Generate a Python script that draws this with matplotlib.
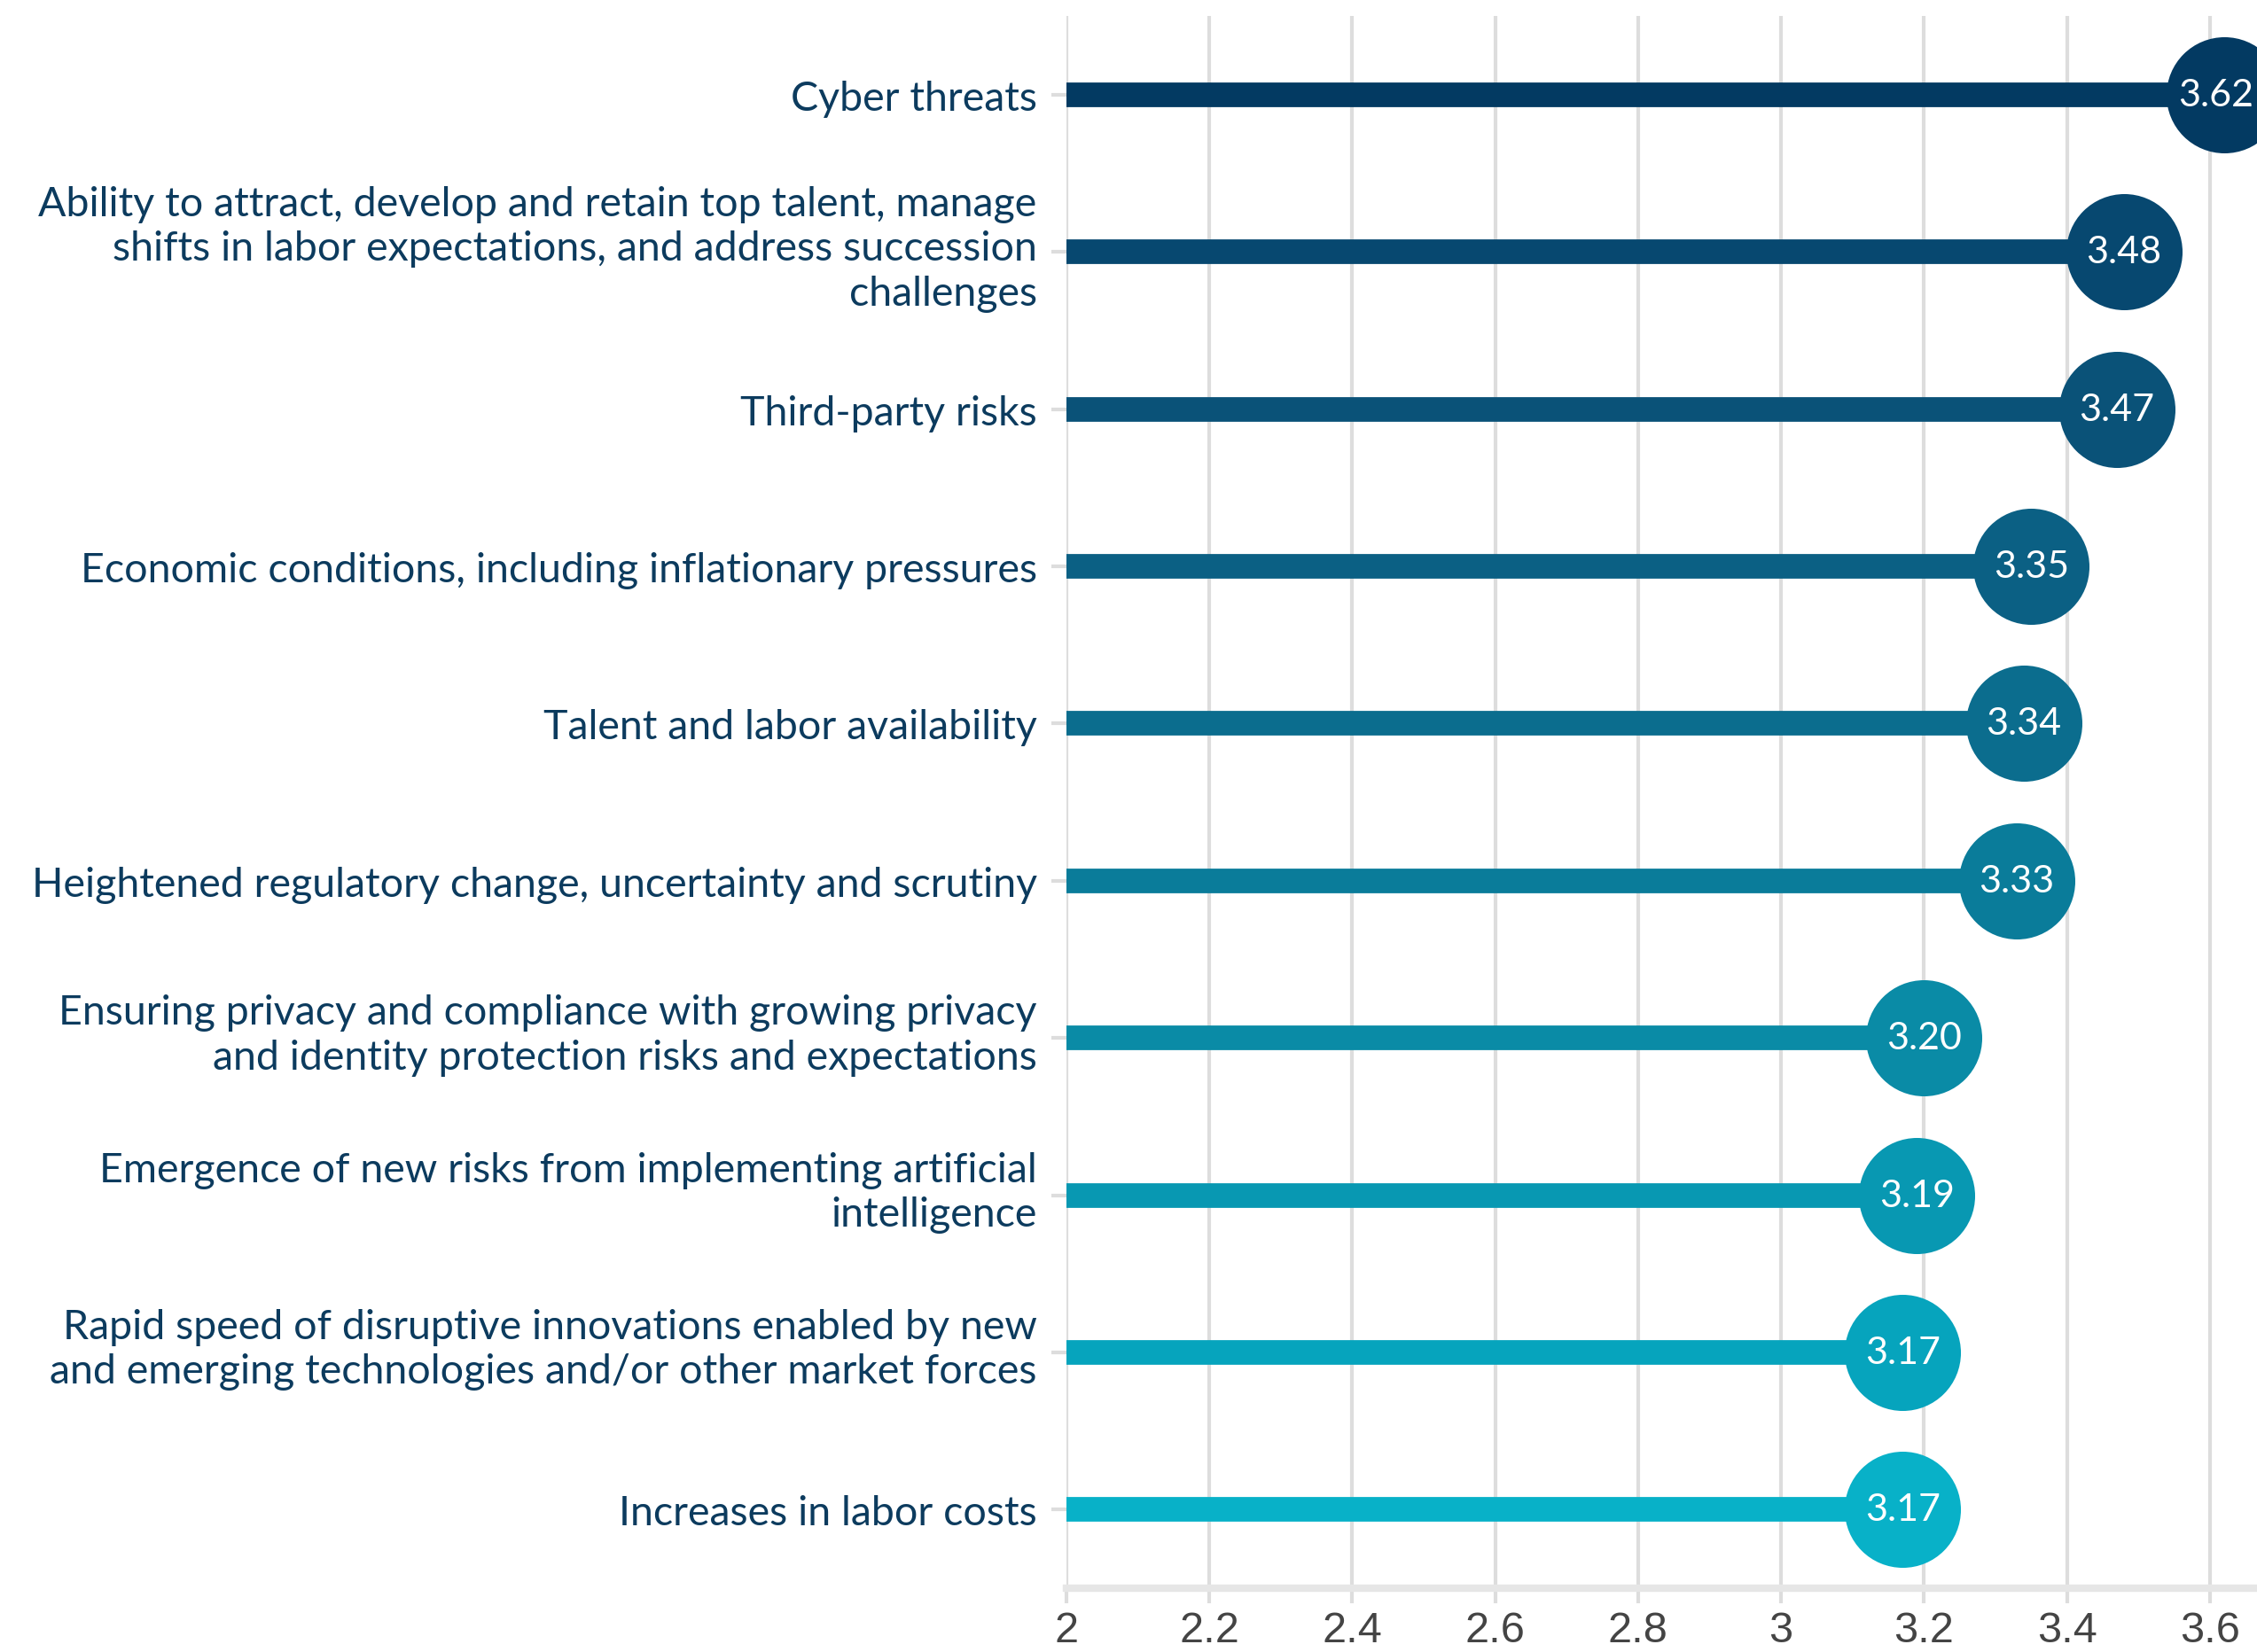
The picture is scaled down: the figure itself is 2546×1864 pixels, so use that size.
import matplotlib
matplotlib.use("Agg")
import matplotlib.pyplot as plt
import matplotlib.transforms as mtransforms

categories = [
    "Cyber threats",
    "Ability to attract, develop and retain top talent, manage\nshifts in labor expectations, and address succession\nchallenges",
    "Third-party risks",
    "Economic conditions, including inflationary pressures",
    "Talent and labor availability",
    "Heightened regulatory change, uncertainty and scrutiny",
    "Ensuring privacy and compliance with growing privacy\nand identity protection risks and expectations",
    "Emergence of new risks from implementing artificial\nintelligence",
    "Rapid speed of disruptive innovations enabled by new\nand emerging technologies and/or other market forces",
    "Increases in labor costs",
]
values = [3.62, 3.48, 3.47, 3.35, 3.34, 3.33, 3.20, 3.19, 3.17, 3.17]
value_labels = ["3.62", "3.48", "3.47", "3.35", "3.34", "3.33", "3.20", "3.19", "3.17", "3.17"]
colors = ["#033A62", "#074870", "#0A5278", "#0B6084", "#0B6D8E", "#0A7C9A",
          "#0A8BA6", "#0898B2", "#06A4BD", "#08B1C8"]
xticks = [2, 2.2, 2.4, 2.6, 2.8, 3, 3.2, 3.4, 3.6]
xtick_labels = ["2", "2.2", "2.4", "2.6", "2.8", "3", "3.2", "3.4", "3.6"]

fig = plt.figure(figsize=(25.46, 18.65), dpi=100)
ax = fig.add_axes([0.4725, 0.0386, 0.5275, 0.9512])
ax.set_xlim(2, 3.666)
ax.set_ylim(len(categories) - 0.5, -0.5)

ypos = list(range(len(categories)))
value_texts = []
for y, v, c, lab in zip(ypos, values, colors, value_labels):
    ax.plot([2, v], [y, y], color=c, lw=20, solid_capstyle="butt", zorder=3)
    ax.scatter([v], [y], s=8900, color=c, zorder=4, linewidths=0, clip_on=False)
    t = ax.text(v, y, lab, color="white", ha="center", va="center", fontsize=31,
                family=["Lato", "DejaVu Sans"], zorder=5)
    value_texts.append(t)

ax.set_xticks(xticks)
ax.set_xticklabels(xtick_labels, fontsize=35, color="#444444",
                   family=["Liberation Sans Narrow", "Liberation Sans", "DejaVu Sans"])
ax.set_yticks(ypos)
ax.set_yticklabels(categories, fontsize=33.5, color="#0C3B5E",
                   family=["Lato", "DejaVu Sans"], linespacing=1.25)
ax.tick_params(axis="y", length=12, width=3, color="#DDDDDD", pad=12)
ax.tick_params(axis="x", length=12, width=3, color="#DDDDDD", pad=6)

# multi-line labels sit slightly above their bar in the reference
for lbl in ax.get_yticklabels():
    if "\n" in lbl.get_text():
        off = mtransforms.ScaledTranslation(0, 0.12, fig.dpi_scale_trans)
        lbl.set_transform(lbl.get_transform() + off)

ax.grid(axis="x", color="#DDDDDD", lw=3, zorder=1)
ax.set_axisbelow(True)
for s in ["top", "right", "left"]:
    ax.spines[s].set_visible(False)
ax.spines["bottom"].set_color("#E6E6E6")
ax.spines["bottom"].set_linewidth(6)

# keep value labels inside the figure
fig.canvas.draw()
renderer = fig.canvas.get_renderer()
W = fig.bbox.width
for t in value_texts:
    bb = t.get_window_extent(renderer)
    if bb.x1 > W - 4:
        shift = (bb.x1 - (W - 4)) / fig.dpi
        t.set_transform(t.get_transform() + mtransforms.ScaledTranslation(-shift, 0, fig.dpi_scale_trans))

fig.savefig("out.png", dpi=100, facecolor="white")
